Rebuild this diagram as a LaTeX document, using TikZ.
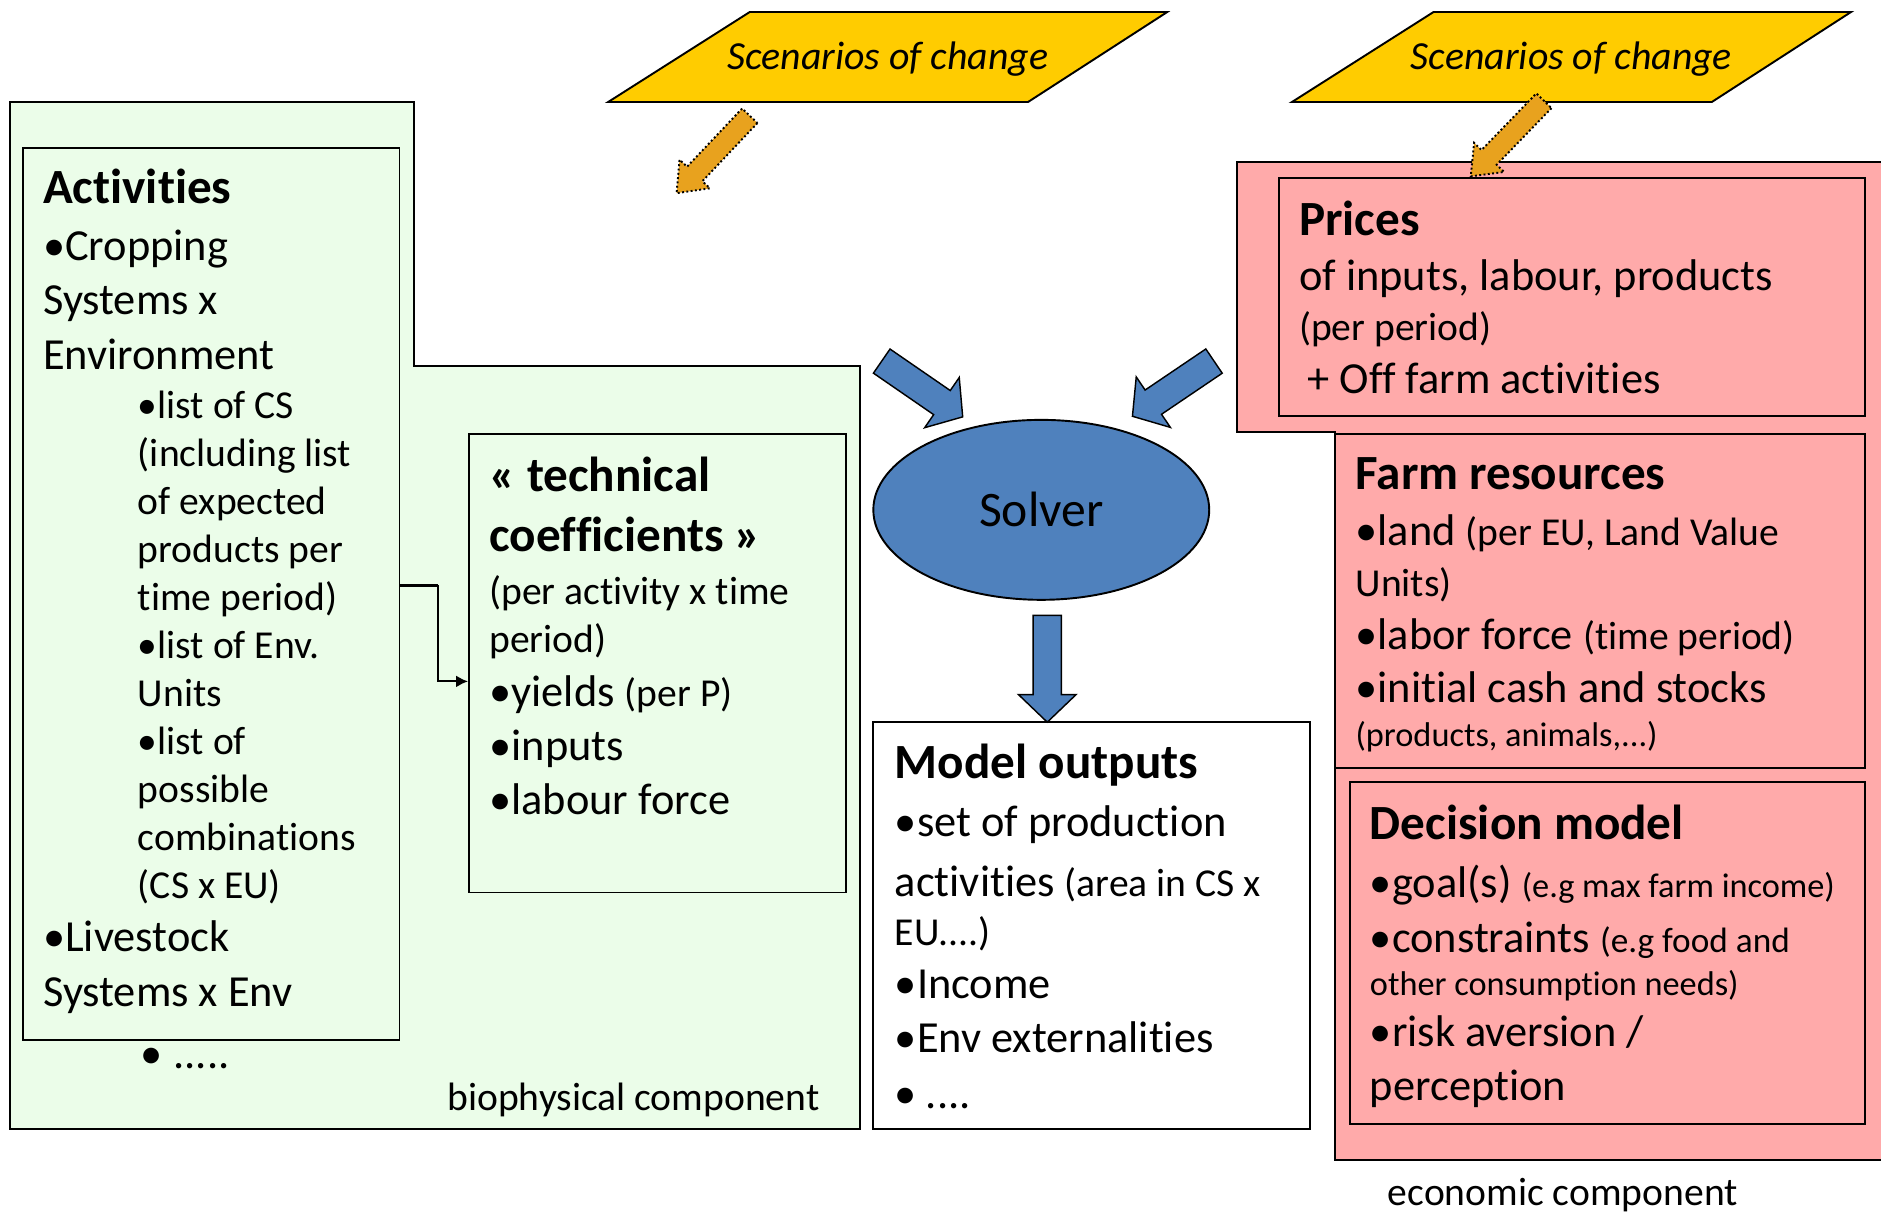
\documentclass[tikz,border=0pt]{standalone}
\usepackage{fontspec}
\setmainfont{Carlito}[Ligatures=NoCommon]
\usetikzlibrary{calc,fit,shapes.geometric,arrows.meta}
\definecolor{bgreen}{RGB}{235,253,233}
\definecolor{epink}{RGB}{255,170,170}
\definecolor{syellow}{RGB}{255,204,0}
\definecolor{sorange}{RGB}{232,162,30}
\definecolor{sblue}{RGB}{79,129,189}
\newcommand\ftitle{\fontsize{20.5}{24}\selectfont\bfseries}
\newcommand\fmain{\fontsize{18.5}{22}\selectfont}
\newcommand\fsub{\fontsize{16.5}{20}\selectfont}
\newcommand\fsmall{\fontsize{14.3}{17}\selectfont}
% style, tail, tip, shaft half width, head half width, head length
\newcommand\mkblockarrow[6]{%
  \coordinate (tmpH) at ($(#3)!#6!(#2)$);
  \filldraw[#1] ($(#2)!#4!90:(#3)$) -- ($(tmpH)!#4!90:(#3)$) -- ($(tmpH)!#5!90:(#3)$)
    -- (#3) -- ($(tmpH)!#5!-90:(#3)$) -- ($(tmpH)!#4!-90:(#3)$) -- ($(#2)!#4!-90:(#3)$) -- cycle;}
\tikzset{
  txt/.style={anchor=base west, inner sep=0pt, outer sep=0pt},
  gbox/.style={draw, fill=bgreen, line width=0.8pt, inner sep=0pt},
  pbox/.style={draw, fill=epink, line width=0.8pt, inner sep=0pt},
  wbox/.style={draw, fill=white, line width=0.8pt, inner sep=0pt},
  bluearrow/.style={draw=black, fill=sblue, line width=0.6pt},
  orangearrow/.style={draw=black, fill=sorange, line width=0.8pt, densely dotted},
  scen/.style={draw=black, fill=syellow, line width=0.8pt},
  conn/.style={line width=0.9pt, -{Latex[length=5pt,width=5pt]}}
}
\begin{document}
\begin{tikzpicture}[x=0.5pt,y=-0.5pt]
\clip (0,0) rectangle (1568,1013);
\fill[white] (0,0) rectangle (1568,1013);
% biophysical component
\filldraw[gbox] (8,85) -- (345,85) -- (345,305) -- (717,305) -- (717,941) -- (8,941) -- cycle;
\node[gbox, fit={(19,123) (333,867)}] (act) {};
\node[gbox, fit={(391,362) (705,744)}] (tc) {};
% economic component
\filldraw[pbox] (1031,135) -- (1580,135) -- (1580,967) -- (1113,967) -- (1113,360) -- (1031,360) -- cycle;
\node[pbox, fit={(1066,148) (1555,347)}] (pr) {};
\node[pbox, fit={(1113,362) (1555,640)}] (fr) {};
\node[pbox, fit={(1125,652) (1555,937)}] (dm) {};
% model outputs
\node[wbox, fit={(728,602) (1092,941)}] (mo) {};
% solver
\node[ellipse, draw, fill=sblue, line width=0.8pt, minimum width=140pt, minimum height=75pt, inner sep=0pt]
  (solver) at (868,425) {\fontsize{20.7}{24}\selectfont Solver};
% scenarios
\filldraw[scen] (625,10) -- (973,10) -- (857,85) -- (507,85) -- cycle;
\node[anchor=base, inner sep=0pt] (sc1) at (740,58) {\fontsize{16.6}{20}\selectfont\itshape Scenarios of change};
\filldraw[scen] (1195,10) -- (1543,10) -- (1427,85) -- (1077,85) -- cycle;
\node[anchor=base, inner sep=0pt] (sc2) at (1310,58) {\fontsize{16.6}{20}\selectfont\itshape Scenarios of change};
% Activities text
\node[txt] (a1) at (36,170) {\ftitle Activities};
\node[txt] (a2) at (36,217) {\fmain •Cropping};
\node[txt] (a3) at (36,262) {\fmain Systems x};
\node[txt] (a4) at (36,308) {\fmain Environment};
\node[txt] (a5) at (115,349) {\fsub •list of CS};
\node[txt] (a6) at (115,389) {\fsub (including list};
\node[txt] (a7) at (115,429) {\fsub of expected};
\node[txt] (a8) at (115,469) {\fsub products per};
\node[txt] (a9) at (115,509) {\fsub time period)};
\node[txt] (a10) at (115,549) {\fsub •list of Env.};
\node[txt] (a11) at (115,589) {\fsub Units};
\node[txt] (a12) at (115,629) {\fsub •list of};
\node[txt] (a13) at (115,669) {\fsub possible};
\node[txt] (a14) at (115,709) {\fsub combinations};
\node[txt] (a15) at (115,749) {\fsub (CS x EU)};
\node[txt] (a16) at (36,793) {\fmain •Livestock};
\node[txt] (a17) at (36,839) {\fmain Systems x Env};
\node[txt] (a18) at (117,891) {\fmain •\hspace{0.25em}.....};
% technical coefficients text
\node[txt] (t1) at (408,410) {\ftitle « technical};
\node[txt] (t2) at (408,460) {\ftitle coefficients »};
\node[txt] (t3) at (408,504) {\fsub (per activity x time};
\node[txt] (t4) at (408,544) {\fsub period)};
\node[txt] (t5) at (408,589) {\fmain •yields \fsub(per P)};
\node[txt] (t6) at (408,634) {\fmain •inputs};
\node[txt] (t7) at (408,679) {\fmain •labour force};
\node[txt] (bio) at (373,926) {\fsub biophysical component};
% model outputs text
\node[txt] (m1) at (746,649) {\ftitle Model outputs};
\node[txt] (m2) at (746,697) {\fmain •set of production};
\node[txt] (m3) at (746,747) {\fmain activities \fsub(area in CS x};
\node[txt] (m4) at (746,788) {\fsub EU....)};
\node[txt] (m5) at (746,832) {\fmain •Income};
\node[txt] (m6) at (746,877) {\fmain •Env externalities};
\node[txt] (m7) at (746,924) {\fmain •\hspace{0.2em}....};
% prices text
\node[txt] (p1) at (1083,196) {\ftitle Prices};
\node[txt] (p2) at (1083,242) {\fmain of inputs, labour, products};
\node[txt] (p3) at (1083,284) {\fsub (per period)};
\node[txt] (p4) at (1090,328) {\fmain + Off farm activities};
% farm resources text
\node[txt] (f1) at (1130,408) {\ftitle Farm resources};
\node[txt] (f2) at (1130,455) {\fmain •land \fsub(per EU, Land Value};
\node[txt] (f3) at (1130,497) {\fsub Units)};
\node[txt] (f4) at (1130,541) {\fmain •labor force \fsub(time period)};
\node[txt] (f5) at (1130,586) {\fmain •initial cash and stocks};
\node[txt] (f6) at (1130,622) {\fsmall (products, animals,...)};
% decision model text
\node[txt] (d1) at (1142,700) {\ftitle Decision model};
\node[txt] (d2) at (1142,748) {\fmain •goal(s) \fsmall(e.g max farm income)};
\node[txt] (d3) at (1142,794) {\fmain •constraints \fontsize{14.7}{17}\selectfont(e.g food and};
\node[txt] (d4) at (1142,830) {\fsmall other consumption needs)};
\node[txt] (d5) at (1142,872) {\fmain •risk aversion /};
\node[txt] (d6) at (1142,917) {\fmain perception};
\node[txt] (eco) at (1157,1005) {\fsub economic component};
% connector activities -> technical coefficients
\coordinate (ya) at (0,488);
\coordinate (yb) at (0,568);
\draw[line width=0.9pt] (act.east |- ya) -- (365,488) coordinate (bend);
\draw[conn] (bend) |- (tc.west |- yb);
% blue block arrows
\coordinate (lt) at (735,301);
\coordinate (lp) at (802.5,347.5);
\coordinate (rt) at (1012,301);
\coordinate (rp) at (944,347);
\coordinate (dt) at (873,513);
\coordinate (dp) at (873,602);
\mkblockarrow{bluearrow}{lt}{lp}{6.1pt}{12.7pt}{10.5pt}
\mkblockarrow{bluearrow}{rt}{rp}{6.1pt}{12.7pt}{10.5pt}
\mkblockarrow{bluearrow}{dt}{dp}{5.9pt}{12pt}{11.5pt}
% orange block arrows
\coordinate (ot1) at (625,96.5);
\coordinate (op1) at (564,161);
\coordinate (ot2) at (1287,84);
\coordinate (op2) at (1226,147);
\mkblockarrow{orangearrow}{ot1}{op1}{4.4pt}{8.7pt}{11pt}
\mkblockarrow{orangearrow}{ot2}{op2}{4.4pt}{8.7pt}{11pt}
\end{tikzpicture}
\end{document}
